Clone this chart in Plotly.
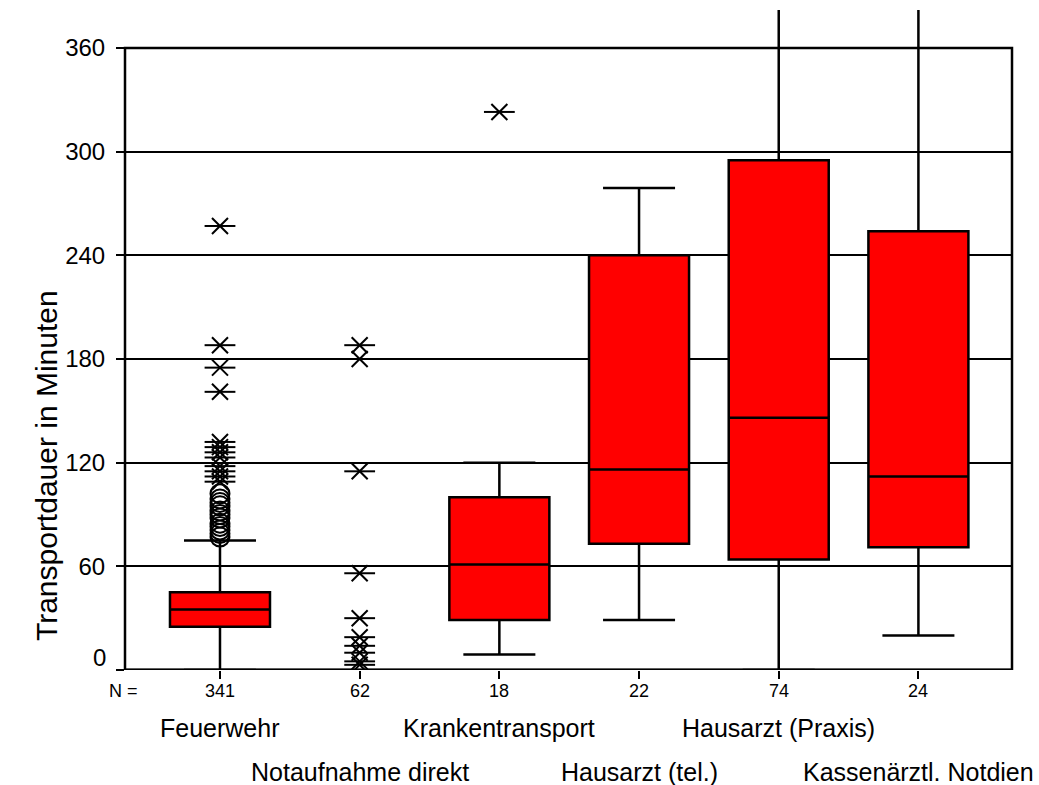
import plotly.graph_objects as go

categories = ["Feuerwehr", "Notaufnahme direkt", "Krankentransport",
              "Hausarzt (tel.)", "Hausarzt (Praxis)", "Kassenärztl. Notdien"]
n_counts = ["341", "62", "18", "22", "74", "24"]

# box statistics (minutes); Notaufnahme direkt has no visible box
box_cats = [0, 2, 3, 4, 5]
q1 = [25, 29, 73, 64, 71]
median = [35, 61, 116, 146, 112]
q3 = [45, 100, 240, 295, 254]
lowerfence = [0, 9, 29, 0, 20]
upperfence = [75, 120, 279, 420, 420]

# outliers (circles) and extremes (asterisks)
out_x = [0] * 12
out_y = [77, 79, 81, 83, 85, 88, 90, 92, 95, 97, 99, 102]
ext_x = [0] * 12 + [1] * 10 + [2]
ext_y = [109, 112, 115, 118, 123, 126, 129, 132, 161, 175, 188, 257,
         188, 180, 115, 56, 30, 19, 14, 10, 5, 3,
         323]

yticks = [0, 60, 120, 180, 240, 300, 360]

FONT = "Liberation Sans, Arial, sans-serif"

fig = go.Figure()
for i, c in enumerate(box_cats):
    fig.add_trace(go.Box(
        x=[c], q1=[q1[i]], median=[median[i]], q3=[q3[i]],
        lowerfence=[lowerfence[i]], upperfence=[upperfence[i]],
        width=0.716, whiskerwidth=0.72,
        fillcolor="#ff0000", line=dict(color="black", width=2.5),
        boxpoints=False, showlegend=False, hoverinfo="skip"))

fig.add_trace(go.Scatter(x=out_x, y=out_y, mode="markers", showlegend=False,
                         marker=dict(symbol="circle-open", size=19, color="black",
                                     line=dict(color="black", width=2))))
fig.add_trace(go.Scatter(x=ext_x, y=ext_y, mode="markers", showlegend=False,
                         marker=dict(symbol="x-thin-open", size=16, color="black",
                                     line=dict(color="black", width=2))))
fig.add_trace(go.Scatter(x=ext_x, y=ext_y, mode="markers", showlegend=False,
                         marker=dict(symbol="line-ew-open", size=22, color="black",
                                     line=dict(color="black", width=2))))

annotations = []
for i, c in enumerate(categories):
    annotations.append(dict(x=i, xref="x", y=0, yref="paper",
                            yshift=-58 if i % 2 == 0 else -102,
                            text=c, showarrow=False, yanchor="middle",
                            xanchor="center", font=dict(size=25, color="black", family=FONT)))
    annotations.append(dict(x=i, xref="x", y=0, yref="paper", yshift=-21,
                            text=n_counts[i], showarrow=False, yanchor="middle",
                            xanchor="center", font=dict(size=18, color="black", family=FONT)))
annotations.append(dict(x=0, xref="paper", y=0, yref="paper", xshift=-2, yshift=-21,
                        text="N =", showarrow=False, xanchor="center", yanchor="middle",
                        font=dict(size=18, color="black", family=FONT)))
annotations.append(dict(x=0, xref="paper", y=0, yref="y", xshift=-17, yshift=13,
                        text="0", showarrow=False, xanchor="right", yanchor="middle",
                        font=dict(size=24, color="black", family=FONT)))
annotations.append(dict(x=0, xref="paper", y=0.309, yref="paper", xshift=-79,
                        text="Transportdauer in Minuten", textangle=-90, showarrow=False,
                        xanchor="center", yanchor="middle",
                        font=dict(size=30, color="black", family=FONT)))

fig.update_layout(
    width=1039, height=785,
    margin=dict(l=125, r=27, t=10, b=115),
    paper_bgcolor="white", plot_bgcolor="white",
    font=dict(family=FONT, color="black"),
    annotations=annotations,
    shapes=[
        dict(type="rect", xref="paper", x0=0, x1=1, yref="y", y0=0, y1=360,
             line=dict(color="black", width=2.5), layer="above"),
        dict(type="line", xref="paper", x0=0, x1=1, yref="y", y0=0, y1=0,
             line=dict(color="black", width=3), layer="above"),
    ],
    xaxis=dict(range=[-0.68, 5.67], tickvals=list(range(len(categories))),
               showticklabels=False, ticks="outside", ticklen=8, tickwidth=2,
               tickcolor="black", showgrid=False, zeroline=False, showline=False),
    yaxis=dict(range=[0, 382], tickvals=yticks,
               ticktext=[""] + [str(v) for v in yticks[1:]],
               ticks="outside", ticklen=8, tickwidth=2, tickcolor="black",
               ticklabelstandoff=6,
               showgrid=True, gridcolor="black", gridwidth=2, zeroline=False,
               showline=False, tickfont=dict(size=24, color="black", family=FONT)),
)

fig.write_html("out.html", config={"displayModeBar": False},
               post_script="document.body.style.margin='0';")
